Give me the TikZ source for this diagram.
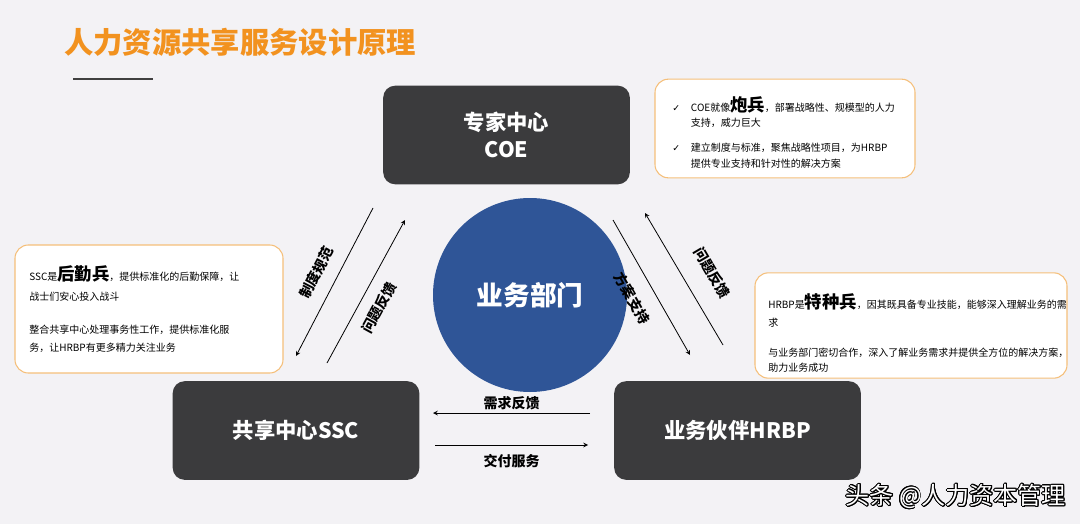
\documentclass[tikz,border=0pt]{standalone}
\usepackage{fontspec}
\usepackage{contour}
\setmainfont{Noto Sans CJK SC}
\newfontfamily\checkfont{DejaVu Sans}
\usetikzlibrary{positioning}
\contourlength{0.7pt}
\definecolor{paper}{HTML}{F3F2F5}
\definecolor{titleOrange}{HTML}{F2921F}
\definecolor{roleGray}{HTML}{3B3B3D}
\definecolor{deptBlue}{HTML}{2F5597}
\definecolor{noteLine}{HTML}{F5BF7A}
\newcommand{\soldier}[1]{{\fontsize{13}{13}\selectfont\bfseries #1}}
\newcommand{\tick}{\makebox[14pt][l]{\checkfont\fontsize{7}{7}\selectfont ✓}}
\tikzset{
  role/.style={fill=roleGray, rounded corners=9pt, text=white, align=center,
    minimum width=185pt, minimum height=74pt,
    font=\fontsize{16}{20}\selectfont\bfseries},
  note/.style={draw=noteLine, line width=0.8pt, fill=white, rounded corners=10pt},
  notetext/.style={anchor=north west, inner sep=0pt, align=left,
    font=\fontsize{7.5}{11.5}\selectfont},
  flow/.style={-stealth, line width=0.6pt},
  flowlabel/.style={font=\fontsize{10.5}{12}\selectfont\bfseries, inner sep=1pt},
}
\begin{document}
\begin{tikzpicture}[x=0.75pt,y=-0.75pt]
\fill[paper] (0,0) rectangle (1080,524);
\useasboundingbox (0,0) rectangle (1080,524);

% title
\node[anchor=west, inner sep=0pt, text=titleOrange,
  font=\fontsize{22}{26}\selectfont\bfseries] (title) at (64,42) {人力资源共享服务设计原理};
\draw[line width=1.2pt, black!75] (73,79) -- (153,79);

% the three roles and the business
\node[role] (coe) at (506.5,135) {专家中心\\COE};
\node[role] (ssc) at (296,430.5) {共享中心SSC};
\node[role] (hrbp) at (737.5,430.5) {业务伙伴HRBP};
\node[circle, fill=deptBlue, minimum size=145.5pt, text=white,
  font=\fontsize{20}{24}\selectfont\bfseries] (dept) at (530,295) {业务部门};

% notes
\node[note, minimum width=195pt, minimum height=74pt] (coenote) at (785,128.5) {};
\node[notetext] (coetext) at (672,96)
  {\tick COE就像\soldier{炮兵}，部署战略性、规模型的人力\\
   \hspace*{14pt}支持，威力巨大\\[7.5pt]
   \tick 建立制度与标准，聚焦战略性项目，为HRBP\\
   \hspace*{14pt}提供专业支持和针对性的解决方案};

\node[note, minimum width=201pt, minimum height=96pt] (sscnote) at (149,309) {};
\node[notetext] (ssctext) at (29,265)
  {SSC是\soldier{后勤兵}，提供标准化的后勤保障，让\\[4pt]
   战士们安心投入战斗\\[13pt]
   整合共享中心处理事务性工作，提供标准化服\\[2pt]
   务，让HRBP有更多精力关注业务};

\node[note, minimum width=234pt, minimum height=79pt] (hrbpnote) at (911,325.5) {};
\node[notetext] (hrbptext) at (768,293)
  {HRBP是\soldier{特种兵}，因其既具备专业技能，能够深入理解业务的需\\[2pt]
   求\\[11pt]
   与业务部门密切合作，深入了解业务需求并提供全方位的解决方案，\\
   助力业务成功};

% flows between COE and SSC
\coordinate (coeSscA) at (373,208);
\coordinate (coeSscB) at (296,356);
\coordinate (sscCoeA) at (327,363);
\coordinate (sscCoeB) at (405,220);
\draw[flow] (coeSscA) -- node[flowlabel, sloped, above=9pt] {制度规范} (coeSscB);
\draw[flow] (sscCoeA) -- node[flowlabel, sloped, below=8pt, pos=0.45] {问题反馈} (sscCoeB);

% flows between COE and HRBP
\coordinate (coeHrbpA) at (613,220);
\coordinate (coeHrbpB) at (690,355);
\coordinate (hrbpCoeA) at (723,345);
\coordinate (hrbpCoeB) at (645,213);
\draw[flow] (coeHrbpA) -- node[flowlabel, sloped, below=10pt] {方案支持} (coeHrbpB);
\draw[flow] (hrbpCoeA) -- node[flowlabel, sloped, above=14pt, pos=0.44] {问题反馈} (hrbpCoeB);

% flows between HRBP and SSC
\coordinate (hrbpSscA) at (590,413);
\coordinate (hrbpSscB) at (433,413);
\coordinate (sscHrbpA) at (435,445);
\coordinate (sscHrbpB) at (588,445);
\draw[flow] (hrbpSscA) -- node[flowlabel, above=1pt] {需求反馈} (hrbpSscB);
\draw[flow] (sscHrbpA) -- node[flowlabel, below=6pt] {交付服务} (sscHrbpB);

% watermark
\node[anchor=east, inner sep=0pt, text=white,
  font=\fontsize{18}{20}\selectfont] (mark) at (1066,497) {\contour{black}{头条 @人力资本管理}};
\end{tikzpicture}
\end{document}
